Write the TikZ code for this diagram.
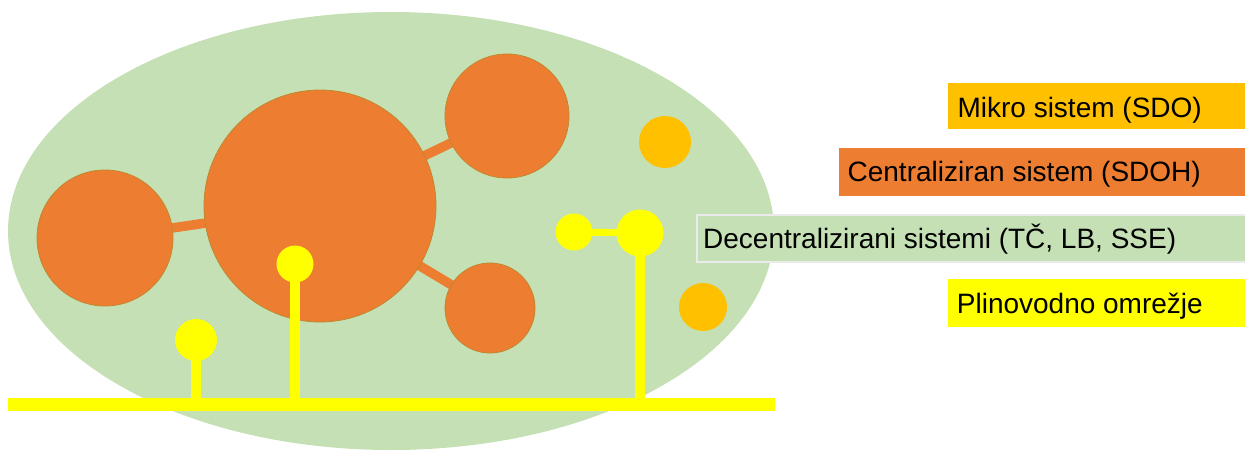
\documentclass[tikz,border=0pt]{standalone}
\usepackage{fontspec}
\setmainfont{Liberation Sans}
\definecolor{grn}{HTML}{C5E0B4}
\definecolor{org}{HTML}{ED7D31}
\definecolor{gld}{HTML}{FFC000}
\definecolor{ylw}{HTML}{FFFF00}
\definecolor{oedge}{HTML}{C0882E}
\pgfdeclarelayer{bg}
\pgfsetlayers{bg,main}
\begin{document}
\begin{tikzpicture}[x=1pt,y=-1pt,
  ocirc/.style={circle, fill=org, draw=oedge, line width=0.8pt, inner sep=0pt, minimum size=#1},
  gcirc/.style={circle, fill=gld, inner sep=0pt, minimum size=#1},
  ycirc/.style={circle, fill=ylw, inner sep=0pt, minimum size=#1},
  oconn/.style={draw=org, line width=9.5pt},
  yconn/.style={draw=ylw, line width=#1},
  legtext/.style={inner sep=0pt, font=\fontsize{28}{32}\selectfont, text=black}]
\useasboundingbox (0,0) rectangle (1245,450);
% orange system
\node[ocirc=136pt] (oL) at (105,238) {};
\node[ocirc=232pt] (oB) at (320,206) {};
\node[ocirc=124pt] (oT) at (507,116) {};
\node[ocirc=90pt]  (oR) at (490,308) {};
\node[gcirc=52pt] (g1) at (665,142) {};
\node[gcirc=48pt] (g2) at (703,307) {};
\begin{pgfonlayer}{bg}
  \fill[grn] (391,231) ellipse [x radius=383pt, y radius=219pt];
  \draw[oconn] (oL.center) -- (oB.center);
  \draw[oconn] (oB.center) -- (oT.center);
  \draw[oconn] (oB.center) -- (oR.center);
\end{pgfonlayer}
% gas network
\coordinate (busL) at (8,404);
\coordinate (busR) at (775,404);
\coordinate (s1) at (196,404);
\coordinate (s2) at (295,404);
\coordinate (s3) at (640,404);
\coordinate (c1) at (196,340);
\coordinate (c2) at (295,264);
\coordinate (c3) at (640,233);
\coordinate (c4) at (574,232);
\draw[yconn=13pt] (busL) -- (busR);
\draw[yconn=10pt] (c1) -- (s1);
\draw[yconn=10pt] (c2) -- (s2);
\draw[yconn=10pt] (c3) -- (s3);
\draw[yconn=7pt] (c4) -- (c3);
\node[ycirc=42pt] (y1) at (c1) {};
\node[ycirc=37pt] (y2) at (c2) {};
\node[ycirc=47pt] (y3) at (c3) {};
\node[ycirc=37pt] (y4) at (c4) {};
% legend
\fill[gld] (948,83) rectangle (1245,129);
\node[legtext, anchor=base east] (tm) at (1202,117) {Mikro sistem (SDO)};
\fill[org] (839,148) rectangle (1245,196);
\node[legtext, anchor=base east] (tc) at (1201,181) {Centraliziran sistem (SDOH)};
\filldraw[fill=grn, draw=white!92!black, line width=1.5pt] (697,215) rectangle (1246,262);
\node[legtext, anchor=base west] (td) at (703,248) {Decentralizirani sistemi (TČ, LB, SSE)};
\fill[ylw] (948,279) rectangle (1245,327);
\node[legtext, anchor=base east] (tp) at (1203,313) {Plinovodno omrežje};
\end{tikzpicture}
\end{document}
